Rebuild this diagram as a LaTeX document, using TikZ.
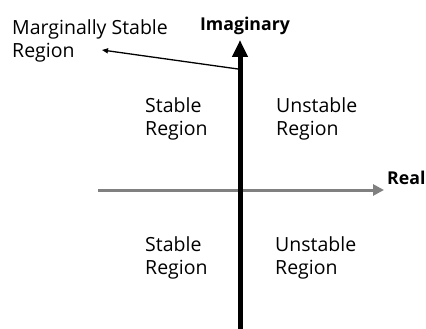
\documentclass[tikz,border=0pt]{standalone}
\usepackage{fontspec}
\setmainfont{Open Sans}
\usepackage{xcolor}
\usepackage{tikz}
\usetikzlibrary{arrows.meta,positioning}
\definecolor{axisgray}{HTML}{808080}

\begin{document}
\begin{tikzpicture}[x=1pt, y=-1pt,
  region/.style={align=left, anchor=north west, inner sep=0pt, font=\fontsize{19.5}{23.5}\selectfont},
  axislabel/.style={inner sep=0pt, font=\fontsize{17.7}{20}\selectfont\bfseries},
]
  \useasboundingbox (0,0) rectangle (426,329);
  % axes
  \coordinate (xleft) at (98,190);
  \coordinate (xright) at (384,190);
  \coordinate (ybot) at (240,329);
  \coordinate (ytop) at (240,40);
  \draw[axisgray, line width=3pt, -{Triangle[length=11pt, width=11pt]}] (xleft) -- (xright);
  \draw[black, line width=5pt, -{Triangle[length=17pt, width=15pt]}] (ybot) -- (ytop);
  \node[axislabel, anchor=base] (imag) at (245,31) {Imaginary};
  \node[axislabel, anchor=base west] (real) at (387,184) {Real};
  % regions
  \node[region] (margin) at (12,19) {Marginally Stable\\Region};
  \node[region] (stabup) at (145,97) {Stable\\Region};
  \node[region] (unstup) at (276,97) {Unstable\\Region};
  \node[region] (stablo) at (145,236) {Stable\\Region};
  \node[region] (unstlo) at (275,236) {Unstable\\Region};
  % pointer to the imaginary axis
  \coordinate (mpt) at (238,69);
  \coordinate (mtip) at (102,50);
  \draw[line width=1.3pt, -{Triangle[length=6pt, width=5pt]}] (mpt) -- (mtip);
\end{tikzpicture}
\end{document}
